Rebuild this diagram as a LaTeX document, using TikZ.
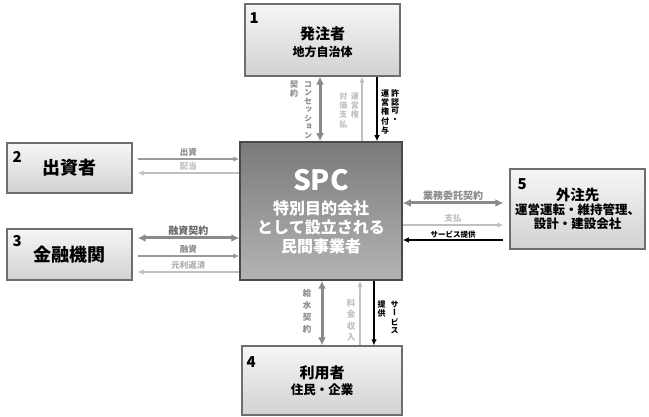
\documentclass[tikz,border=0pt]{standalone}
\usepackage{fontspec}
\newfontfamily\jp{Noto Sans CJK JP}
\newfontfamily\jpv{Noto Sans CJK JP}[RawFeature=+vert]
\usetikzlibrary{arrows.meta}

\definecolor{boxedge}{HTML}{6E6E6E}
\definecolor{boxtop}{HTML}{F6F6F6}
\definecolor{boxbot}{HTML}{D2D2D2}
\definecolor{spcedge}{HTML}{4A4A4A}
\definecolor{spctop}{HTML}{7A7A7A}
\definecolor{spcbot}{HTML}{B4B4B4}
\definecolor{dkgray}{HTML}{8A8A8A}
\definecolor{mdgray}{HTML}{9A9A9A}
\definecolor{ltgray}{HTML}{C0C0C0}

\newcommand\vcol[1]{\begin{tabular}[t]{@{}c@{}}#1\end{tabular}}
% moves a block down without changing its size
\newcommand\down[2]{\raisebox{-#1}[\height][\depth]{#2}}

\begin{document}
\begin{tikzpicture}[x=1pt,y=-1pt,
  party/.style={draw=boxedge,line width=1.2pt,top color=boxtop,bottom color=boxbot,
    align=center,inner sep=0pt,font=\jp\bfseries},
  spcbox/.style={draw=spcedge,line width=1.5pt,top color=spctop,bottom color=spcbot,
    align=center,inner sep=0pt,text=white},
  num/.style={anchor=north west,inner sep=0pt,font=\jp\bfseries\fontsize{15}{15}\selectfont},
  twoway/.style={draw=dkgray,line width=3pt,{Latex[length=8pt,width=8pt]}-{Latex[length=8pt,width=8pt]}},
  oneway/.style={draw=#1,line width=1.6pt,-{Latex[length=6pt,width=5.5pt]}},
  lbl/.style={inner sep=1.5pt,font=\jp\bfseries\fontsize{8.5}{8.5}\selectfont},
  vlbl/.style={anchor=north,inner sep=0pt,font=\jpv\bfseries\fontsize{8}{#1}\selectfont},
  vlbl/.default=8.3]
\useasboundingbox (0,0) rectangle (649,417);

% parties
\node[party,minimum width=155pt,minimum height=72pt] (hatchu) at (322.5,40)
  {\down{3pt}{\begin{tabular}{@{}c@{}}{\fontsize{15}{19}\selectfont 発注者}\\[3pt]
   {\fontsize{12}{14}\selectfont 地方自治体}\end{tabular}}};
\node[spcbox,minimum width=162pt,minimum height=138pt,
  font=\jp\bfseries\fontsize{16}{18.5}\selectfont] (spc) at (321,211)
  {\down{3pt}{\begin{tabular}{@{}c@{}}{\fontsize{28}{30}\selectfont SPC}\\[4pt]
   特別目的会社\\として設立される\\民間事業者\end{tabular}}};
\node[party,minimum width=125pt,minimum height=50pt] (shusshi) at (69.5,168)
  {{\fontsize{18}{20}\selectfont 出資者}};
\node[party,minimum width=125pt,minimum height=51pt] (kinyu) at (69.5,254.5)
  {{\fontsize{18}{20}\selectfont 金融機関}};
\node[party,minimum width=135pt,minimum height=80pt] (gaichu) at (577.5,209)
  {{\fontsize{14.5}{18}\selectfont 外注先}\\{\fontsize{12.5}{15}\selectfont 運営運転・維持管理、}\\[2pt]
   {\fontsize{12.5}{15}\selectfont 設計・建設会社}};
\node[party,minimum width=160pt,minimum height=69pt] (riyou) at (322,380.5)
  {\down{1.5pt}{\begin{tabular}{@{}c@{}}{\fontsize{15}{19}\selectfont 利用者}\\[1pt]
   {\fontsize{12.5}{14}\selectfont 住民・企業}\end{tabular}}};

% numbers
\node[num] (n1) at ([xshift=5pt,yshift=-9pt]hatchu.north west) {1};
\node[num] (n2) at ([xshift=6pt,yshift=-9pt]shusshi.north west) {2};
\node[num] (n3) at ([xshift=6pt,yshift=-7pt]kinyu.north west) {3};
\node[num] (n4) at ([xshift=5pt,yshift=-11pt]riyou.north west) {4};
\node[num] (n5) at ([xshift=8pt,yshift=-10pt]gaichu.north west) {5};

% 1 - SPC
\draw[twoway] ([xshift=-1pt]spc.north) -- ([xshift=-1pt]spc.north |- hatchu.south);
\draw[oneway=ltgray] ([xshift=41pt]spc.north) -- ([xshift=41pt]spc.north |- hatchu.south);
\draw[oneway=black] ([xshift=56pt]spc.north |- hatchu.south) -- ([xshift=56pt]spc.north);
\node[vlbl,text=dkgray] (lconc) at (301,80)
  {\vcol{契\\約}\hspace{6pt}\vcol{コ\\ン\\セ\\ッ\\シ\\ョ\\ン}};
\node[vlbl,text=ltgray] (ltaika) at (349,92)
  {\vcol{対\\価\\支\\払}\hspace{3.5pt}\vcol{運\\営\\権}};
\node[vlbl,text=black] (lkyoka) at (390,89)
  {\vcol{運\\営\\権\\付\\与}\hspace{2pt}\vcol{許\\認\\可\\・}};

% 2 - SPC
\draw[oneway=mdgray] ([xshift=5pt,yshift=9pt]shusshi.east) -- ([yshift=9pt]shusshi.east -| spc.west)
  node[midway,above,lbl,text=dkgray] (lshus) {出資};
\draw[oneway=ltgray] ([yshift=-5pt]shusshi.east -| spc.west) -- ([xshift=5pt,yshift=-5pt]shusshi.east)
  node[midway,above,lbl,text=ltgray] (lhaito) {配当};

% 3 - SPC
\draw[twoway] ([xshift=5pt,yshift=16.5pt]kinyu.east) -- ([yshift=16.5pt]kinyu.east -| spc.west)
  node[midway,above,lbl,inner sep=1pt,text=black!60,font=\jp\bfseries\fontsize{10}{10}\selectfont] (lyushik) {融資契約};
\draw[oneway=mdgray] ([xshift=5pt,yshift=-1.5pt]kinyu.east) -- ([yshift=-1.5pt]kinyu.east -| spc.west)
  node[midway,above,lbl,text=dkgray] (lyushi) {融資};
\draw[oneway=ltgray] ([yshift=-17.5pt]kinyu.east -| spc.west) -- ([xshift=5pt,yshift=-17.5pt]kinyu.east)
  node[midway,above,lbl,text=ltgray!90!black] (lhensai) {元利返済};

% 5 - SPC
\draw[twoway] ([yshift=6pt]gaichu.west -| spc.east) -- ([xshift=-6pt,yshift=6pt]gaichu.west)
  node[midway,above,lbl,inner sep=1pt,text=dkgray,font=\jp\bfseries\fontsize{10}{10}\selectfont] (lgyomu) {業務委託契約};
\draw[oneway=ltgray] ([yshift=-16pt]gaichu.west -| spc.east) -- ([xshift=-6pt,yshift=-16pt]gaichu.west)
  node[midway,above,lbl,text=ltgray] (lshiha) {支払};
\draw[oneway=black] ([xshift=-6pt,yshift=-31pt]gaichu.west) -- ([yshift=-31pt]gaichu.west -| spc.east)
  node[midway,above,lbl,inner sep=1pt,text=black,font=\jp\bfseries\fontsize{7.5}{7.5}\selectfont] (lserv5) {サービス提供};

% SPC - 4
\draw[twoway] ([xshift=1pt]spc.south) -- ([xshift=1pt]spc.south |- riyou.north);
\draw[oneway=ltgray] ([xshift=39pt]spc.south |- riyou.north) -- ([xshift=39pt]spc.south);
\draw[oneway=black] ([xshift=53pt]spc.south) -- ([xshift=53pt]spc.south |- riyou.north);
\node[vlbl=12,text=dkgray,font=\jpv\bfseries\fontsize{8.5}{12}\selectfont] (lkyusui) at (307,288)
  {\vcol{給\\水\\契\\約}};
\node[vlbl=11.5,text=ltgray,font=\jpv\bfseries\fontsize{8.5}{11.5}\selectfont] (lryokin) at (351,298)
  {\vcol{料\\金\\収\\入}};
\node[vlbl=8.5,text=black] (lserv4) at (388,300)
  {\vcol{提\\供}\hspace{5pt}\vcol{サ\\ー\\ビ\\ス}};
\end{tikzpicture}
\end{document}
